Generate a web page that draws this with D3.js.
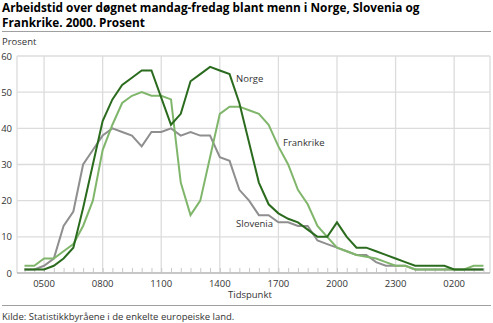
<!DOCTYPE html>
<html><head><meta charset="utf-8">
<script src="https://cdn.jsdelivr.net/npm/d3@7"></script>
<style>body{margin:0;background:#fff}svg{display:block}text{font-family:"Open Sans","DejaVu Sans",sans-serif}</style>
</head><body>
<script>
const times = ["0400","0430","0500","0530","0600","0630","0700","0730","0800","0830","0900","0930","1000","1030","1100","1130","1200","1230","1300","1330","1400","1430","1500","1530","1600","1630","1700","1730","1800","1830","1900","1930","2000","2030","2100","2130","2200","2230","2300","2330","0000","0030","0100","0130","0200","0230","0300","0330"];
const norge =     [1,1,1,2,4,7,18,30,42,48,52,54,56,56,48.5,41,44,53,55,57,56,55,47,36,25,19,16.5,15,14,12,10,10,14,10,7,7,6,5,4,3,2,2,2,2,1,1,1,1];
const frankrike = [2,2,4,4,6,8,13,20,34,41,47,49,50,49,49,48,25,16,20,32,44,46,46,45,44,41,35,30,23,19,13,10,7,6,5,4.5,4,3,2,2,1,1,1,1,1,1,2,2];
const slovenia =  [1,1,2,4,13,17,30,34,38,40,39,38,35,39,39,40,38,39,38,38,32,31,23,20,16,16,14,14,13,13,9,8,7,6,5,5,3,2,2,2,1,1,1,1,1,1,1,1];
const yTicks = [0,10,20,30,40,50,60];
const xMajor = ["0500","0800","1100","1400","1700","2000","2300","0200"];
const titleLines = ["Arbeidstid over døgnet mandag-fredag blant menn i Norge, Slovenia og","Frankrike. 2000. Prosent"];
const series = [
  {name:"Slovenia", values:slovenia, color:"#8f8f8f"},
  {name:"Frankrike", values:frankrike, color:"#80b66b"},
  {name:"Norge", values:norge, color:"#2a6b1e"}
];
const labels = [
  {name:"Norge", t:"1430", v:52.8, dx:6.5},
  {name:"Frankrike", t:"1700", v:35.1, dx:4.6},
  {name:"Slovenia", t:"1430", v:12.7, dx:6.5}
];

const W=493,H=323;
const svg=d3.select("body").append("svg").attr("width",W).attr("height",H);
const L=17,R=490,T=56,B=273;
const x=d3.scaleLinear().domain([-0.77,47.67]).range([L,R]);
const y=d3.scaleLinear().domain([0,60]).range([B,T]);
const xi = t => times.indexOf(t);

// title
const tt=svg.append("text").attr("font-weight","bold").attr("font-size",11.8).attr("fill","#000");
tt.selectAll("tspan").data(titleLines).join("tspan").attr("x",2).attr("y",(d,i)=>11.5+i*15.5).text(d=>d);
svg.append("line").attr("x1",2).attr("x2",491).attr("y1",31.5).attr("y2",31.5).attr("stroke","#a0a0a0").attr("stroke-width",1);
svg.append("text").attr("x",2).attr("y",45).attr("font-size",9.5).attr("fill","#333").text("Prosent");

// grid
const g=svg.append("g");
g.selectAll(".hg").data(yTicks.filter(d=>d>0)).join("line")
  .attr("x1",L).attr("x2",R).attr("y1",d=>y(d)).attr("y2",d=>y(d))
  .attr("stroke","#dcdcdc").attr("stroke-width",1.3);
g.selectAll(".vg").data(xMajor).join("line")
  .attr("x1",d=>x(xi(d))).attr("x2",d=>x(xi(d))).attr("y1",T).attr("y2",B)
  .attr("stroke","#dcdcdc").attr("stroke-width",1.3);
g.append("line").attr("x1",L).attr("x2",L).attr("y1",T).attr("y2",B).attr("stroke","#dcdcdc").attr("stroke-width",1.3);
g.append("line").attr("x1",R).attr("x2",R).attr("y1",T).attr("y2",B).attr("stroke","#dcdcdc").attr("stroke-width",1.3);

// y labels
g.selectAll(".yl").data(yTicks).join("text")
  .attr("x",12).attr("y",d=>y(d)+3.5).attr("text-anchor","end").attr("font-size",9.5).attr("fill","#333").text(d=>d);

// x axis
const xAxis=d3.axisBottom(x).tickValues(d3.range(0,48)).tickSize(-5).tickFormat(()=>"");
const ax=svg.append("g").attr("transform",`translate(0,${B})`).call(xAxis);
ax.select(".domain").attr("stroke","#b4b4b4").attr("d",`M${L},0H${R}`).attr("stroke-width",1.3);
ax.selectAll(".tick line").attr("stroke","#c8c8c8");
svg.selectAll(".xl").data(xMajor).join("text")
  .attr("x",d=>x(xi(d))).attr("y",287).attr("text-anchor","middle").attr("font-size",9.5).attr("fill","#333").text(d=>d);
svg.append("text").attr("x",228).attr("y",298).attr("font-size",9.5).attr("fill","#333").text("Tidspunkt");

// lines
const line=d3.line().x((d,i)=>x(i)).y(d=>y(d));
svg.selectAll(".series").data(series).join("path")
  .attr("d",d=>line(d.values)).attr("fill","none").attr("stroke",d=>d.color)
  .attr("stroke-width",2).attr("stroke-linejoin","miter");

svg.selectAll(".lab").data(labels).join("text")
  .attr("x",d=>x(xi(d.t))+d.dx).attr("y",d=>y(d.v)).attr("font-size",9.5).attr("fill","#333").text(d=>d.name);

// footer
svg.append("line").attr("x1",2).attr("x2",491).attr("y1",305.5).attr("y2",305.5).attr("stroke","#a0a0a0").attr("stroke-width",1);
svg.append("text").attr("x",2).attr("y",320).attr("font-size",9.5).attr("fill","#333").text("Kilde: Statistikkbyråene i de enkelte europeiske land.");
</script>
</body></html>
